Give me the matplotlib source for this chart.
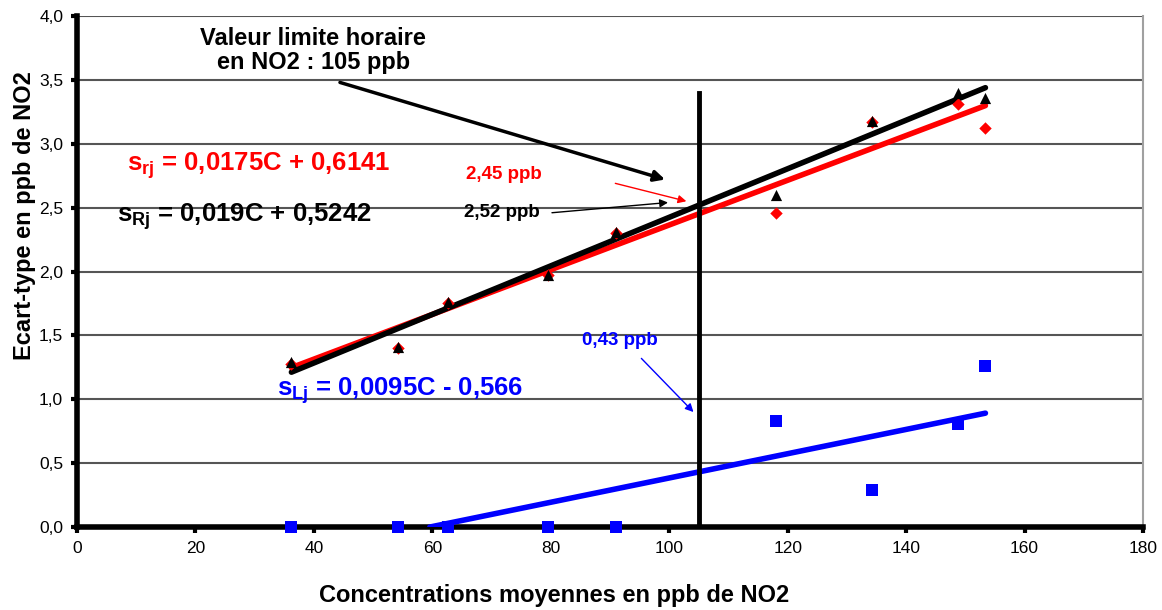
import numpy as np
import matplotlib
matplotlib.use('Agg')
import matplotlib.pyplot as plt

plt.rcParams['font.family'] = ['Liberation Sans', 'DejaVu Sans']
plt.rcParams['mathtext.fontset'] = 'custom'
plt.rcParams['mathtext.rm'] = 'Liberation Sans'
plt.rcParams['mathtext.bf'] = 'Liberation Sans:bold'
plt.rcParams['mathtext.it'] = 'Liberation Sans:italic'

# concentrations moyennes (ppb)
conc = [36.2, 54.2, 62.7, 79.6, 91.0, 118.1, 134.3, 148.7, 153.4]
# ecart-type reproductibilite (triangles noirs)
s_R = [1.29, 1.41, 1.76, 1.97, 2.31, 2.60, 3.18, 3.40, 3.36]
# ecart-type repetabilite (losanges rouges)
s_r = [1.28, 1.40, 1.75, 1.97, 2.30, 2.46, 3.17, 3.31, 3.12]
# ecart-type inter-laboratoires (carres bleus)
s_L = [0.0, 0.0, 0.0, 0.0, 0.0, 0.83, 0.29, 0.81, 1.26]

# droites de regression
coef_R = (0.019, 0.5242)
coef_r = (0.0175, 0.6141)
coef_L = (0.0095, -0.566)
VLH = 105

fig = plt.figure(figsize=(11.62, 6.10), dpi=100)
ax = fig.add_axes([0.0663, 0.136, 0.9173, 0.8378])

xs = np.array([min(conc), max(conc)])
ax.plot(xs, coef_r[0] * xs + coef_r[1], color='#ff0000', lw=4, zorder=3, solid_capstyle='round')
ax.plot(xs, coef_R[0] * xs + coef_R[1], color='black', lw=4, zorder=3, solid_capstyle='round')
x0 = -coef_L[1] / coef_L[0]
xl = np.array([x0, max(conc)])
ax.plot(xl, coef_L[0] * xl + coef_L[1], color='#0000ff', lw=4, zorder=3, solid_capstyle='round')

ax.scatter(conc, s_r, marker='D', s=40, color='#ff0000', zorder=4, linewidths=0)
ax.scatter(conc, s_R, marker='^', s=65, color='black', zorder=5, linewidths=0)
ax.scatter(conc, s_L, marker='s', s=70, color='#0000ff', zorder=6, linewidths=0, clip_on=False)

ax.plot([VLH, VLH], [0, 3.4], color='black', lw=3.5, zorder=3)

ax.set_xlim(0, 180)
ax.set_ylim(0, 4.0)
ax.set_xticks(np.arange(0, 181, 20))
ax.set_yticks(np.arange(0, 4.01, 0.5))
ax.set_yticklabels([f'{v:.1f}'.replace('.', ',') for v in np.arange(0, 4.01, 0.5)])
ax.tick_params(axis='both', labelsize=12.5, direction='out', length=4, width=3, pad=6)
ax.grid(axis='y', color='#555555', lw=1.5, zorder=1)
ax.set_axisbelow(True)

ax.spines['left'].set_linewidth(4)
ax.spines['bottom'].set_linewidth(4)
ax.spines['top'].set_visible(False)
ax.spines['right'].set_color('#a0a0a0')
ax.spines['right'].set_linewidth(1.5)

ax.set_xlabel('Concentrations moyennes en ppb de NO2', fontsize=17, fontweight='bold')
ax.xaxis.set_label_coords(0.4475, -0.133)
ax.xaxis.label.set_va('center')
ax.set_ylabel('Ecart-type en ppb de NO2', fontsize=17, fontweight='bold')
ax.yaxis.set_label_coords(-0.049, 0.609)
ax.yaxis.label.set_va('center')

# annotations
ax.text(39.9, 3.73, 'Valeur limite horaire\nen NO2 : 105 ppb', ha='center', va='center',
        fontsize=17, fontweight='bold', linespacing=1.1)
ax.annotate('', xy=(99.3, 2.72), xytext=(44.4, 3.48),
            arrowprops=dict(arrowstyle='-|>', color='black', lw=2.5, mutation_scale=16,
                            shrinkA=0, shrinkB=0))
ax.text(72.1, 2.76, '2,45 ppb', color='#ff0000', ha='center', va='center',
        fontsize=13.5, fontweight='bold')
ax.annotate('', xy=(102.9, 2.55), xytext=(90.9, 2.69),
            arrowprops=dict(arrowstyle='-|>', color='#ff0000', lw=1, mutation_scale=12,
                            shrinkA=0, shrinkB=0))
ax.text(71.8, 2.46, '2,52 ppb', color='black', ha='center', va='center',
        fontsize=13.5, fontweight='bold')
ax.annotate('', xy=(99.8, 2.54), xytext=(80.2, 2.46),
            arrowprops=dict(arrowstyle='-|>', color='black', lw=1, mutation_scale=12,
                            shrinkA=0, shrinkB=0))
ax.text(91.7, 1.46, '0,43 ppb', color='#0000ff', ha='center', va='center',
        fontsize=13.5, fontweight='bold')
ax.annotate('', xy=(104.1, 0.90), xytext=(95.3, 1.32),
            arrowprops=dict(arrowstyle='-|>', color='#0000ff', lw=1, mutation_scale=12,
                            shrinkA=0, shrinkB=0))

ax.text(8.4, 2.83, r'$\mathbf{s_{rj}}$ = 0,0175C + 0,6141', color='#ff0000',
        fontsize=18.5, fontweight='bold', va='center')
ax.text(6.8, 2.43, r'$\mathbf{s_{Rj}}$ = 0,019C + 0,5242', color='black',
        fontsize=18.5, fontweight='bold', va='center')
ax.text(33.8, 1.07, r'$\mathbf{s_{Lj}}$ = 0,0095C - 0,566', color='#0000ff',
        fontsize=18.5, fontweight='bold', va='center')

fig.savefig('out.png', dpi=100)
